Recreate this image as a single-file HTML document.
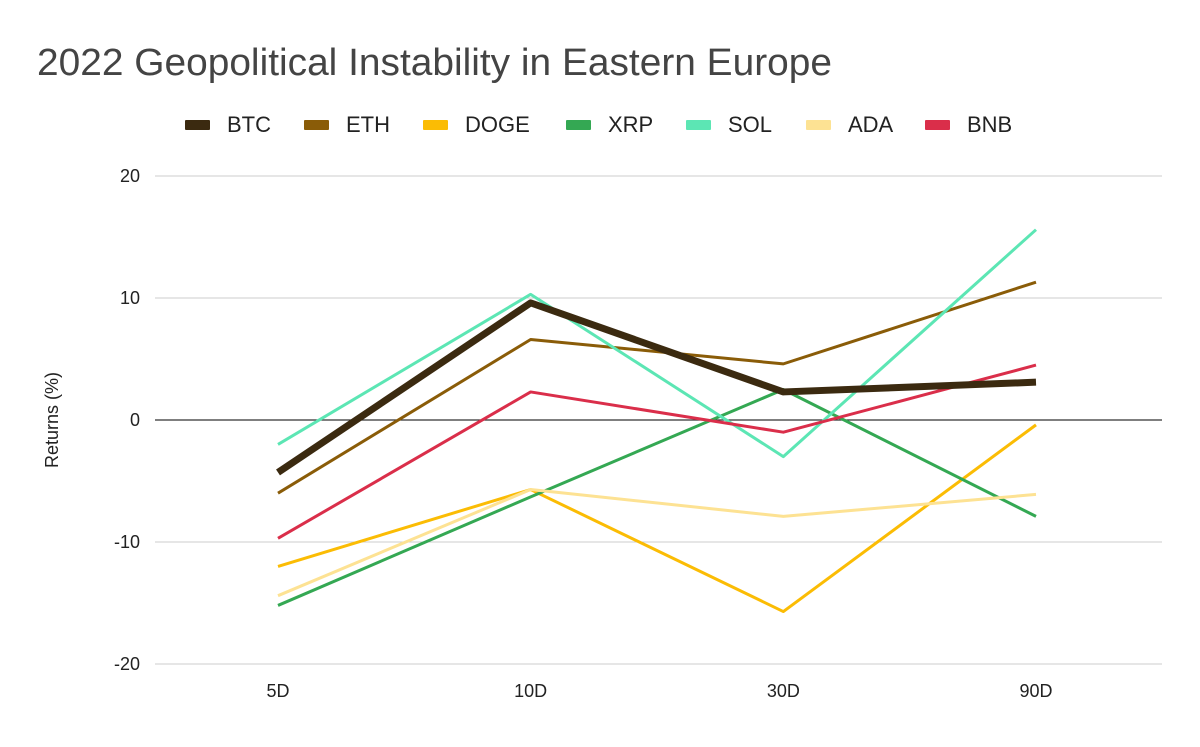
<!DOCTYPE html>
<html><head><meta charset="utf-8"><style>
body{margin:0;background:#fff;font-family:"Liberation Sans",Arial,sans-serif}
</style></head><body>
<svg id="chart" width="1200" height="742" xmlns="http://www.w3.org/2000/svg">
<rect width="1200" height="742" fill="#fff"/>
<text x="37" y="75" font-size="38" textLength="795" lengthAdjust="spacingAndGlyphs" fill="#444">2022 Geopolitical Instability in Eastern Europe</text>
<g id="grid"></g><g id="legend"></g><g id="series"></g>
<text transform="translate(58,420) rotate(-90)" text-anchor="middle" font-size="18" fill="#222">Returns (%)</text>
</svg>
<script>
const categories=["5D","10D","30D","90D"];
const seriesNames=["BTC","ETH","DOGE","XRP","SOL","ADA","BNB"];
const BTC=[-4.3,9.6,2.3,3.1];
const ETH=[-6.0,6.6,4.6,11.3];
const DOGE=[-12.0,-5.7,-15.7,-0.4];
const XRP=[-15.2,-6.3,2.5,-7.9];
const SOL=[-2.0,10.3,-3.0,15.6];
const ADA=[-14.4,-5.7,-7.9,-6.1];
const BNB=[-9.7,2.3,-1.0,4.5];
const yTicks=[-20,-10,0,10,20];
const seriesValues=[BTC,ETH,DOGE,XRP,SOL,ADA,BNB];
const colors=["#3b2a10","#8a5c08","#fbbc04","#34a853","#5ce6b4","#fde293","#da2e4a"];
const widths=[7,3,3,3,3,3,3];
const NS="http://www.w3.org/2000/svg";
const L=155,R=1162,T=176,B=664;
const y=v=>T+(20-v)/40*(B-T);
const x=i=>278+i*(1036-278)/3;
function mk(t,a,p){const e=document.createElementNS(NS,t);for(const k in a)e.setAttribute(k,a[k]);p.appendChild(e);return e;}
const grid=document.getElementById('grid');
yTicks.forEach(v=>{
 const l=mk('line',{x1:L,x2:R,y1:y(v),y2:y(v),stroke:v===0?'#333':'#ccc','stroke-width':v===0?1.3:1},grid);
 
 
 const t=mk('text',{x:140,y:y(v)+6,'text-anchor':'end','font-size':18,fill:'#222'},grid);
 t.textContent=v;
 
 
});
categories.forEach((c,i)=>{
 const t=mk('text',{x:x(i),y:697,'text-anchor':'middle','font-size':18,fill:'#222'},grid);
 t.textContent=c;
 
 
});
const sg=document.getElementById('series');
const order=[1,2,3,4,5,6,0];
order.forEach(s=>{
 const pts=seriesValues[s].map((v,i)=>x(i)+','+y(v)).join(' ');
 const p=mk('polyline',{points:pts,fill:'none',stroke:colors[s],'stroke-width':widths[s],'stroke-linejoin':'round'},sg);
 
 
});
const lg=document.getElementById('legend');
const lx=[185,304,423,566,686,806,925];
seriesNames.forEach((n,i)=>{
 const g=mk('g',{},lg);
 
 
 mk('rect',{x:lx[i],y:120,width:25,height:10,rx:1,fill:colors[i]},g);
 const t=mk('text',{x:lx[i]+42,y:132,'font-size':22,fill:'#222'},g);
 t.textContent=n;
});
</script>
</body></html>
